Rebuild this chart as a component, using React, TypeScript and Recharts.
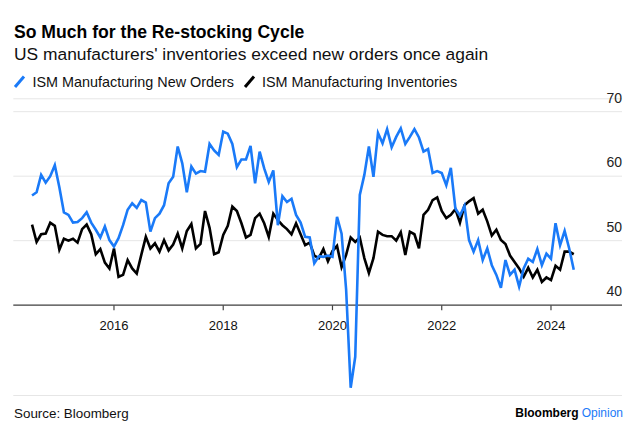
import { LineChart, Line, XAxis, YAxis, CartesianGrid, ReferenceLine } from 'recharts'

// monthly readings, Jun 2014 .. May 2024 (end-of-month)
const START_YEAR = 2014
const START_MONTH = 6

const newOrders = [
  57.0, 57.5, 60.2, 59.0, 60.0, 61.7, 58.3, 54.4, 54.0, 52.8, 52.9, 53.5,
  54.4, 52.8, 51.7, 50.5, 52.2, 50.1, 49.1, 50.4, 52.4, 54.8, 55.8, 55.1,
  56.3, 55.9, 51.4, 53.5, 54.2, 55.5, 58.9, 59.9, 64.6, 62.0, 57.5, 61.5,
  60.4, 60.8, 60.7, 65.0, 64.0, 63.3, 66.9, 66.6, 65.0, 61.4, 62.6, 62.6,
  64.7, 58.9, 63.8, 61.2, 59.1, 60.9, 52.4, 56.9, 56.0, 56.5, 54.0, 52.8,
  50.6, 50.5, 46.5, 47.6, 47.5, 47.7, 47.5, 53.7, 51.1, 42.4, 27.2, 32.0,
  57.1, 60.2, 64.6, 59.9, 66.7, 65.1, 67.3, 64.5, 66.1, 67.4, 65.0, 66.1,
  67.3, 66.0, 63.8, 64.2, 60.5, 60.8, 60.5, 58.6, 61.3, 55.0, 53.9, 55.4,
  50.1, 48.3, 50.1, 47.0, 48.8, 46.2, 44.7, 42.7, 47.0, 44.7, 45.5, 42.9,
  45.7, 47.2, 46.7, 48.7, 46.2, 48.0, 47.2, 52.7, 49.3, 51.5, 48.8, 45.5,
]

const inventories = [
  52.5, 49.8, 51.0, 51.1, 52.8, 52.3, 48.6, 50.3, 50.0, 50.3, 49.7, 51.8,
  52.5, 51.0, 47.9, 48.7, 46.6, 45.7, 48.8, 44.4, 44.7, 47.0, 45.7, 44.9,
  47.8, 50.6, 48.8, 49.6, 48.3, 50.1, 48.5, 49.4, 51.1, 48.8, 51.5, 52.6,
  48.8, 49.5, 54.6, 52.0, 47.9, 48.2, 50.9, 52.3, 55.3, 54.6, 52.7, 50.5,
  50.9, 53.5, 54.2, 52.7, 50.6, 54.2, 53.2, 52.4, 51.8, 51.0, 52.7, 51.0,
  49.3, 49.7, 47.7, 47.3, 48.7, 46.8, 48.4, 49.2, 45.9, 47.8, 50.5, 49.8,
  50.5, 47.3, 45.0, 47.3, 51.4, 50.9, 50.7, 50.7, 50.0, 51.3, 47.8, 51.4,
  51.0, 48.8, 54.0, 54.8, 56.3, 56.7, 54.6, 53.5, 54.0, 54.9, 52.8, 55.5,
  56.1, 56.6, 54.2, 54.8, 53.0, 50.8, 51.7, 50.1, 49.5, 47.7, 46.7, 45.7,
  44.4, 45.8, 44.3, 45.5, 43.6, 44.3, 43.9, 46.1, 45.5, 48.3, 48.3, 47.9,
]

const yearTicks = [2016, 2018, 2020, 2022, 2024]
const valueTicks = [40, 50, 60, 70]

const data = newOrders.map((v, i) => ({
  t: START_YEAR + (START_MONTH + i) / 12,
  newOrders: v,
  inventories: inventories[i],
}))

const BLUE = '#1a7af8'
const FONT = '"Liberation Sans", Arial, Helvetica, sans-serif'

const W = 636
const H = 432
const Y_MIN = 26
const Y_MAX = 72
const Y_AXIS_W = 2
const M = { top: 98.8, right: 12, bottom: 6.5, left: 13.3 }
const X_AXIS_H = 30
const PLOT_RIGHT = W - M.right - Y_AXIS_W
const plotH = H - M.top - M.bottom - X_AXIS_H
const axisShift = ((40 - Y_MIN) * plotH) / (Y_MAX - Y_MIN)

function YearTick(props: any) {
  const { x, y, payload } = props
  const ay = y - axisShift
  return (
    <g>
      <line x1={x} x2={x} y1={ay} y2={ay + 5} stroke="#444" strokeWidth={1.2} />
      <text x={x} y={ay + 24.3} textAnchor="middle" fontSize={13} fill="#111" fontFamily={FONT}>
        {payload.value}
      </text>
    </g>
  )
}

function ValueTick(props: any) {
  const { y, payload } = props
  return (
    <text x={PLOT_RIGHT} y={y - 9} textAnchor="end" fontSize={14} fill="#222" fontFamily={FONT}>
      {payload.value}
    </text>
  )
}

export default function App() {
  return (
    <div style={{ position: 'absolute', left: 0, top: 0, width: W, height: H, background: '#fff' }}>
      <LineChart width={W} height={H} data={data} margin={M}>
        <CartesianGrid vertical={false} stroke="#e6e6e6" strokeWidth={1} />
        <XAxis
          type="number"
          dataKey="t"
          domain={[2014.157, 2025.3]}
          ticks={yearTicks}
          allowDataOverflow
          height={X_AXIS_H}
          axisLine={false}
          tickLine={false}
          tickSize={0}
          tickMargin={0}
          tick={<YearTick />}
          interval={0}
        />
        <YAxis
          orientation="right"
          width={Y_AXIS_W}
          domain={[Y_MIN, Y_MAX]}
          ticks={valueTicks}
          axisLine={false}
          tickLine={false}
          tickSize={0}
          tickMargin={0}
          tick={<ValueTick />}
          interval={0}
        />
        <ReferenceLine y={40} stroke="#444" strokeWidth={1.3} />
        <Line
          dataKey="inventories"
          type="linear"
          stroke="#000"
          strokeWidth={2.6}
          dot={false}
          isAnimationActive={false}
        />
        <Line
          dataKey="newOrders"
          type="linear"
          stroke={BLUE}
          strokeWidth={2.6}
          dot={false}
          isAnimationActive={false}
        />
      </LineChart>
      <svg
        width={W}
        height={H}
        style={{ position: 'absolute', left: 0, top: 0, pointerEvents: 'none' }}
        fontFamily={FONT}
      >
        <text x={14} y={37.5} fontSize={17.6} fontWeight={700} fill="#000">
          So Much for the Re-stocking Cycle
        </text>
        <text x={14} y={59.5} fontSize={17.4} fill="#111">
          US manufacturers' inventories exceed new orders once again
        </text>
        <line x1={15} y1={87} x2={24} y2={76.5} stroke={BLUE} strokeWidth={3} />
        <text x={32.5} y={87.3} fontSize={14.4} fill="#111">
          ISM Manufacturing New Orders
        </text>
        <line x1={245} y1={87} x2={254} y2={76.5} stroke="#000" strokeWidth={3} />
        <text x={262} y={87.3} fontSize={14.4} fill="#111">
          ISM Manufacturing Inventories
        </text>
        <text x={14} y={418.3} fontSize={13.4} fill="#111">
          Source: Bloomberg
        </text>
        <text x={623} y={416.8} textAnchor="end" fontSize={12}>
          <tspan fontWeight={700} fill="#000">Bloomberg</tspan>
          <tspan fill={BLUE} dx={3}>Opinion</tspan>
        </text>
      </svg>
    </div>
  )
}
